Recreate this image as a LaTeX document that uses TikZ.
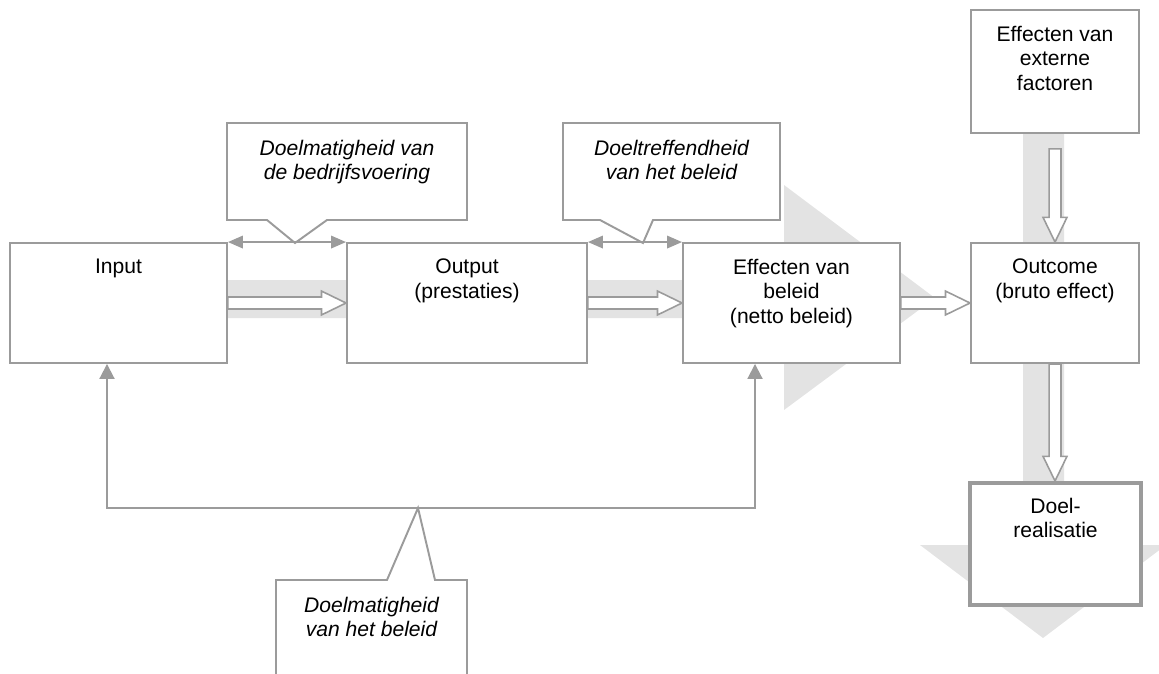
\documentclass[tikz,border=0pt]{standalone}
\usepackage{fontspec}
\setmainfont{Liberation Sans}
\usetikzlibrary{arrows.meta,calc}
\definecolor{linegray}{RGB}{155,155,155}
\definecolor{bandgray}{RGB}{227,227,227}

\begin{document}
\begin{tikzpicture}
[
x=0.02cm, y=-0.02cm,
font=\fontsize{12}{14}\selectfont,
Box/.style={rectangle, draw=linegray, fill=white, line width=1.1pt},
GoalBox/.style={Box, line width=2.3pt},
BoxText/.style={anchor=north, inner sep=0pt, align=center, yshift=-0.33cm},
NoteText/.style={BoxText, font=\fontsize{12}{14}\selectfont\itshape},
Callout/.style={draw=linegray, fill=white, line width=1.1pt, line join=miter},
Band/.style={fill=bandgray},
TwoWay/.style={draw=linegray, line width=1.1pt, {Triangle[length=0.3cm,width=0.25cm]}-{Triangle[length=0.3cm,width=0.25cm]}},
FeedBack/.style={draw=linegray, line width=1.1pt, {Triangle[length=0.3cm,width=0.3cm]}-{Triangle[length=0.3cm,width=0.3cm]}},
HollowRight/.style={draw=linegray, fill=white, line width=0.9pt, line join=miter,
  to path={let \p1=(\tikztostart), \p2=(\tikztotarget) in
    (\x1,\y1+3.4pt) -- (\x2-14pt,\y1+3.4pt) -- (\x2-14pt,\y1+6.8pt) -- (\x2,\y1)
    -- (\x2-14pt,\y1-6.8pt) -- (\x2-14pt,\y1-3.4pt) -- (\x1,\y1-3.4pt) -- cycle}},
HollowDown/.style={draw=linegray, fill=white, line width=0.9pt, line join=miter,
  to path={let \p1=(\tikztostart), \p2=(\tikztotarget) in
    (\x1-3.4pt,\y1) -- (\x1-3.4pt,\y2+14pt) -- (\x1-6.8pt,\y2+14pt) -- (\x1,\y2)
    -- (\x1+6.8pt,\y2+14pt) -- (\x1+3.4pt,\y2+14pt) -- (\x1+3.4pt,\y1) -- cycle}},
]

\useasboundingbox (0,0) rectangle (1159,673);
\clip (0,0) rectangle (1159,673);

% broad background arrows
\fill[Band] (200,280) -- (784,280) -- (784,185) -- (935,298) -- (784,410) -- (784,318) -- (200,318) -- cycle;
\fill[Band] (1023,120) -- (1064,120) -- (1064,545) -- (1166,545) -- (1043,638) -- (920,545) -- (1023,545) -- cycle;

% feedback line
\coordinate (fbl) at (107,508);
\coordinate (fbr) at (755,508);

% callouts
\draw[Callout] (227,123) -- (467,123) -- (467,220) -- (327,220) -- (295,243) -- (267,220) -- (227,220) -- cycle;
\draw[Callout] (563,123) -- (780,123) -- (780,220) -- (653,220) -- (643,243) -- (600,220) -- (563,220) -- cycle;
\draw[Callout] (276,700) -- (276,580) -- (387,580) -- (418,508) -- (435,580) -- (467,580) -- (467,700);

\node[NoteText] (note1) at (347,123) {Doelmatigheid van\\de bedrijfsvoering};
\node[NoteText] (note2) at (671.5,123) {Doeltreffendheid\\van het beleid};
\node[NoteText] (note3) at (371.5,580) {Doelmatigheid\\van het beleid};

% boxes
\node[Box, minimum width=4.34cm, minimum height=2.4cm] (input) at (118.5,303) {};
\node[Box, minimum width=4.8cm, minimum height=2.4cm] (output) at (467,303) {};
\node[Box, minimum width=4.34cm, minimum height=2.4cm] (effect) at (791.5,303) {};
\node[Box, minimum width=3.36cm, minimum height=2.4cm] (outcome) at (1055,303) {};
\node[Box, minimum width=3.36cm, minimum height=2.46cm] (extern) at (1055,71.5) {};
\node[GoalBox, minimum width=3.42cm, minimum height=2.44cm] (goal) at (1055.5,544) {};

\node[BoxText] (input-t) at (input.north) {Input};
\node[BoxText] (output-t) at (output.north) {Output\\(prestaties)};
\node[BoxText] (effect-t) at (effect.north) {Effecten van\\beleid\\(netto beleid)};
\node[BoxText] (outcome-t) at (outcome.north) {Outcome\\(bruto effect)};
\node[BoxText] (extern-t) at (extern.north) {Effecten van\\externe\\factoren};
\node[BoxText] (goal-t) at (goal.north) {Doel-\\realisatie};

% connectors
\draw[TwoWay] (input.north east) -- (output.north west);
\draw[TwoWay] (output.north east) -- (effect.north west);
\draw[FeedBack] (fbl |- input.south) -- (fbl) -- (fbr) -- (fbr |- effect.south);

\draw[HollowRight] (input.east) to (output.west);
\draw[HollowRight] (output.east) to (effect.west);
\draw[HollowRight] (effect.east) to (outcome.west);
\draw[HollowDown] ([yshift=-0.3cm]extern.south) to (outcome.north);
\draw[HollowDown] (outcome.south) to (goal.north);

\end{tikzpicture}
\end{document}
